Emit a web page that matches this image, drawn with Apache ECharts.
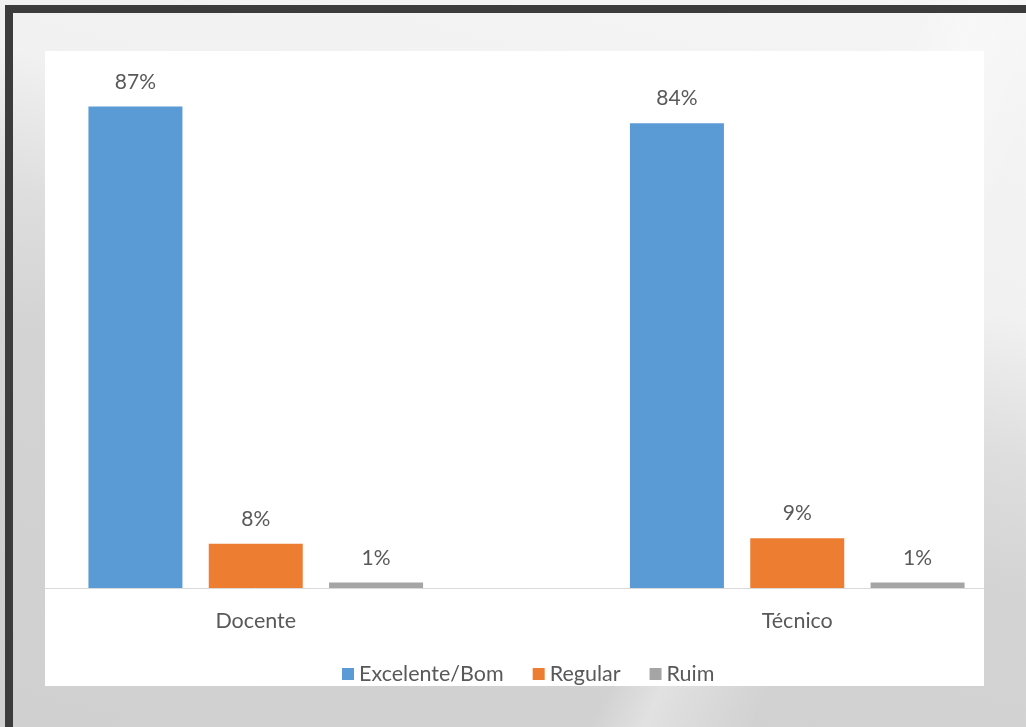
<!DOCTYPE html>
<html>
<head>
<meta charset="utf-8">
<script src="https://cdn.jsdelivr.net/npm/echarts@6/dist/echarts.min.js"></script>
<style>
  html, body { margin: 0; padding: 0; }
  body {
    width: 1026px; height: 727px; overflow: hidden; position: relative;
    background:
      linear-gradient(195deg, #f5f5f5 0%, #f1f1f1 32%, #dedede 46%, #d3d3d3 60%, #d0d0d0 100%);
  }
  #shape1 {
    position: absolute; left: 0; top: 0; width: 1026px; height: 727px;
    background: linear-gradient(115deg, rgba(255,255,255,0) 0%, rgba(255,255,255,0) 68%, rgba(255,255,255,0.35) 72%, rgba(255,255,255,0) 80%);
  }
  #frame {
    position: absolute; left: 5px; top: 5px; width: 1100px; height: 714px;
    border-top: 8px solid #3c3c3c; border-left: 8px solid #3c3c3c; border-bottom: 8px solid #3c3c3c;
  }
  #panel {
    position: absolute; left: 45px; top: 51px; width: 939px; height: 635px;
    background: #ffffff; overflow: hidden;
  }
  #chart {
    position: absolute; left: -60px; top: 0; width: 1083px; height: 635px;
  }
</style>
</head>
<body>
<div id="shape1"></div>
<div id="frame"></div>
<div id="panel"><div id="chart"></div></div>
<script>
  const categories = ['Docente', 'Técnico'];
  const seriesNames = ['Excelente/Bom', 'Regular', 'Ruim'];
  const excelenteBom = [87, 84];
  const regular = [8, 9];
  const ruim = [1, 1];

  const colors = ['#5B9BD5', '#ED7D31', '#A5A5A5'];
  const font = 'Lato, "Open Sans", sans-serif';
  const textColor = '#595959';

  const chart = echarts.init(document.getElementById('chart'), null, { renderer: 'canvas' });

  const values = [excelenteBom, regular, ruim];
  const series = seriesNames.map((name, i) => ({
    name: name,
    type: 'bar',
    data: values[i],
    barWidth: 94,
    barGap: '28%',
    itemStyle: { color: colors[i] },
    label: {
      show: true,
      position: 'top',
      distance: 14,
      formatter: '{c}%',
      color: textColor,
      fontFamily: font,
      fontSize: 21
    }
  }));

  chart.setOption({
    animation: false,
    grid: { left: 0, right: 0, top: 39, bottom: 98, containLabel: false },
    xAxis: {
      type: 'category',
      data: categories,
      axisLine: { show: true, lineStyle: { color: '#D9D9D9', width: 1 } },
      axisTick: { show: false },
      axisLabel: { color: textColor, fontFamily: font, fontSize: 21.5, margin: 22 }
    },
    yAxis: {
      type: 'value',
      min: 0,
      max: 90,
      show: false,
      splitLine: { show: false }
    },
    legend: {
      data: seriesNames,
      left: 352,
      top: 607,
      itemWidth: 12,
      itemHeight: 12,
      itemGap: 29,
      icon: 'rect',
      textStyle: { color: textColor, fontFamily: font, fontSize: 21.5 }
    },
    series: series
  });
</script>
</body>
</html>
